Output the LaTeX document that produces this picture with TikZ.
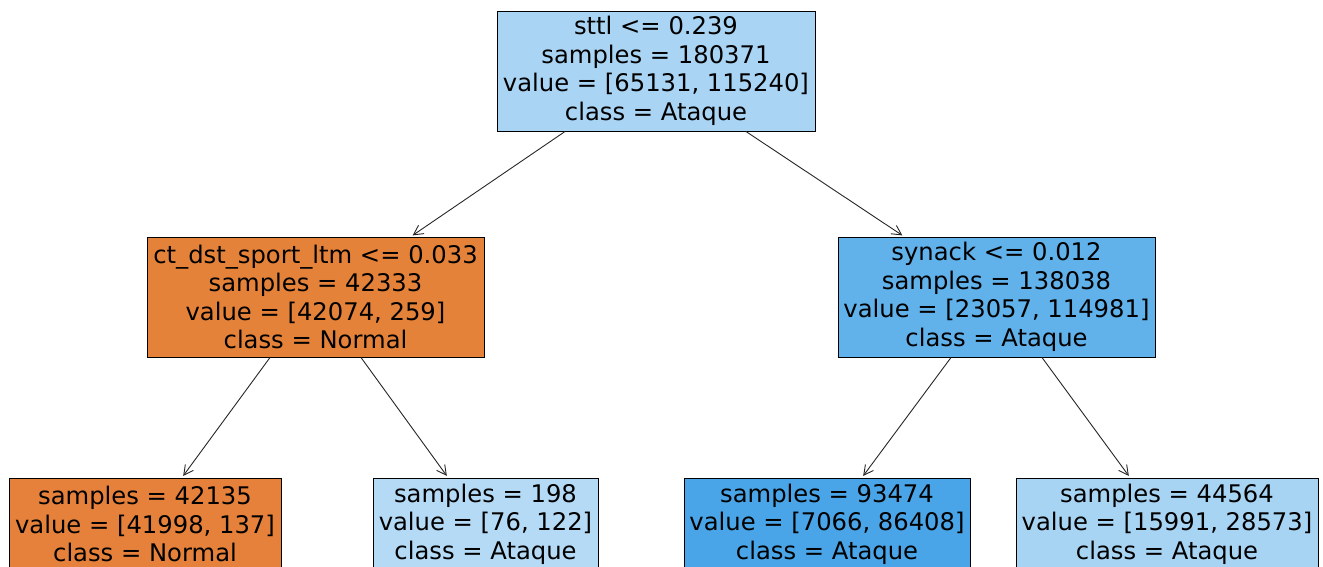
\documentclass[tikz,border=0pt]{standalone}
\usepackage{fontspec}
\setmainfont{DejaVu Sans}
\usetikzlibrary{arrows.meta}
\definecolor{cRoot}{RGB}{169,212,244}
\definecolor{cL}{RGB}{229,130,58}
\definecolor{cR}{RGB}{97,177,234}
\definecolor{cLL}{RGB}{229,129,58}
\definecolor{cLR}{RGB}{180,218,245}
\definecolor{cRL}{RGB}{73,165,231}
\definecolor{cRR}{RGB}{168,212,244}
\tikzset{
  treebox/.style={draw=black, line width=1pt, inner sep=0pt, align=center,
    font=\fontsize{24.25}{28.5}\selectfont},
  edge/.style={draw=black!85, line width=0.9pt, -{Straight Barb[length=9.5pt,width=10pt]}, shorten >=2pt}
}
\begin{document}
\begin{tikzpicture}[x=1pt,y=-1pt]
\useasboundingbox (0,0) rectangle (1323,566);
\clip (0,0) rectangle (1323,566);
\node[treebox, fill=cRoot, minimum width=318pt, minimum height=120pt] (root) at (656,71)
  {sttl <= 0.239\\samples = 180371\\value = [65131, 115240]\\class = Ataque};
\node[treebox, fill=cL, minimum width=337pt, minimum height=120pt] (L) at (315.5,297)
  {ct\_dst\_sport\_ltm <= 0.033\\samples = 42333\\value = [42074, 259]\\class = Normal};
\node[treebox, fill=cR, minimum width=317pt, minimum height=120pt] (R) at (996.5,297)
  {synack <= 0.012\\samples = 138038\\value = [23057, 114981]\\class = Ataque};
\node[treebox, fill=cLL, minimum width=272pt, minimum height=92pt] (LL) at (145,524)
  {samples = 42135\\value = [41998, 137]\\class = Normal};
\node[treebox, fill=cLR, minimum width=225pt, minimum height=92pt] (LR) at (485.5,524)
  {samples = 198\\value = [76, 122]\\class = Ataque};
\node[treebox, fill=cRL, minimum width=286pt, minimum height=92pt] (RL) at (827,524)
  {samples = 93474\\value = [7066, 86408]\\class = Ataque};
\node[treebox, fill=cRR, minimum width=302pt, minimum height=92pt] (RR) at (1167,524)
  {samples = 44564\\value = [15991, 28573]\\class = Ataque};
\draw[edge] ([xshift=-91pt]root.south) -- ([xshift=95.5pt]L.north);
\draw[edge] ([xshift=90pt]root.south) -- ([xshift=-92.5pt]R.north);
\draw[edge] ([xshift=-45.5pt]L.south) -- ([xshift=37pt]LL.north);
\draw[edge] ([xshift=45.5pt]L.south) -- ([xshift=-37.5pt]LR.north);
\draw[edge] ([xshift=-45.5pt]R.south) -- ([xshift=35pt]RL.north);
\draw[edge] ([xshift=45.5pt]R.south) -- ([xshift=-37pt]RR.north);
\end{tikzpicture}
\end{document}
